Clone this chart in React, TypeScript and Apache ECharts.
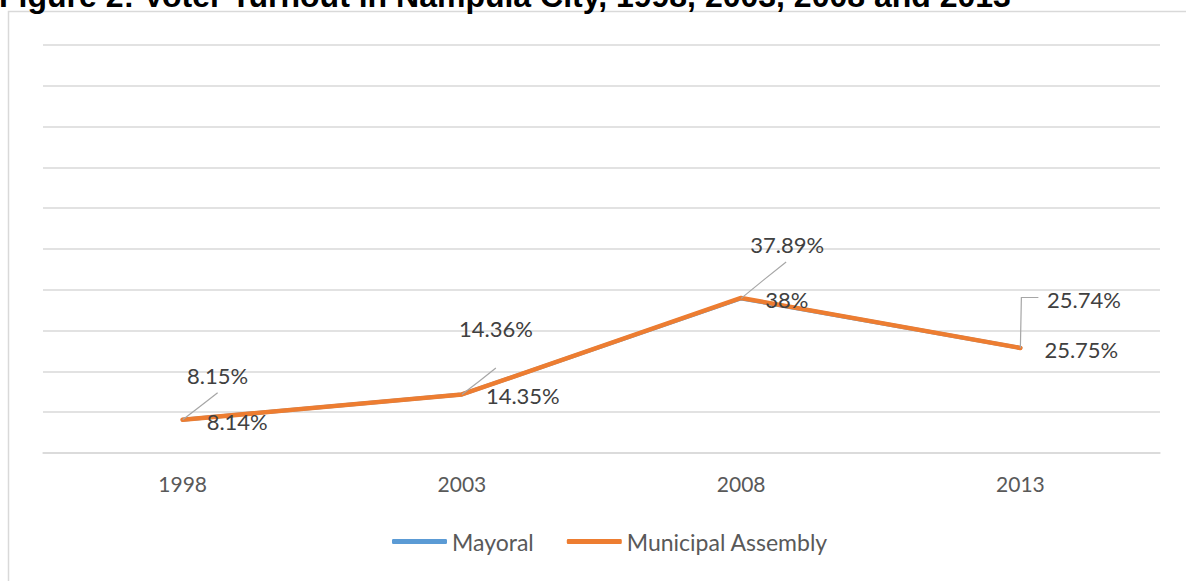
import React, { useEffect, useRef } from "react";
import * as echarts from "echarts";

// ---- data ----
const years = ["1998", "2003", "2008", "2013"];
const mayoral = [8.15, 14.36, 37.89, 25.74];
const municipal = [8.14, 14.35, 38, 25.75];
const mayoralLabels = ["8.15%", "14.36%", "37.89%", "25.74%"];
const municipalLabels = ["8.14%", "14.35%", "38%", "25.75%"];
const seriesNames = ["Mayoral", "Municipal Assembly"];
const titleText = "Figure 2: Voter Turnout in Nampula City, 1998, 2003, 2008 and 2013";

// ---- callout placement for the Mayoral labels (pixel offsets from each point) ----
const mayoralCallouts = [
  { dx: 35, dy: -44, line: [[0, 0], [17, -13], [35, -27]] },
  { dx: 34, dy: -66, line: [[0, 0], [17, -13], [34, -26.5]] },
  { dx: 46, dy: -54, line: [[0, 0], [22, -18], [45, -36.5]] },
  { dx: 63.5, dy: -48.5, line: [[0, 0], [1, -50.5], [18, -50.5]] },
];

const FONT = "Lato, 'Open Sans', sans-serif";
const LABEL_SIZE = 22;

export default function App() {
  const ref = useRef<HTMLDivElement>(null);

  useEffect(() => {
    if (!ref.current) return;
    const chart = echarts.init(ref.current, undefined, { renderer: "svg" });
    const option: any = {
      animation: false,
      backgroundColor: "#ffffff",
      graphic: [
        {
          type: "rect",
          shape: { x: 8.5, y: 11.5, width: 1200, height: 600 },
          style: { fill: "none", stroke: "#d9d9d9", lineWidth: 1.5 },
          z: -10,
        },
        {
          type: "text",
          x: -1,
          y: -3.6,
          style: {
            text: titleText,
            font: "bold 32px 'Liberation Sans', Arial, sans-serif",
            fill: "#000000",
            align: "left",
            verticalAlign: "middle",
          },
        },
      ],
      grid: { left: 43, right: 26, top: 45, bottom: 128 },
      legend: {
        data: [
          { name: seriesNames[0], icon: "roundRect" },
          { name: seriesNames[1], icon: "roundRect" },
        ],
        left: 392,
        top: 530,
        padding: 0,
        itemWidth: 55,
        itemHeight: 5,
        itemGap: 33,
        textStyle: { fontFamily: FONT, fontSize: 23, color: "#595959" },
      },
      xAxis: {
        type: "category",
        data: years,
        boundaryGap: true,
        axisTick: { show: false },
        axisLine: { lineStyle: { color: "#d9d9d9", width: 1.5 } },
        axisLabel: { color: "#595959", fontFamily: FONT, fontSize: 21, margin: 20 },
      },
      yAxis: {
        type: "value",
        min: 0,
        max: 100,
        interval: 10,
        axisLabel: { show: false },
        axisLine: { show: false },
        axisTick: { show: false },
        splitLine: { lineStyle: { color: "#d9d9d9", width: 1.5 } },
      },
      series: [
        {
          name: seriesNames[0],
          type: "line",
          data: mayoral,
          symbol: "none",
          color: "#5b9bd5",
          lineStyle: { color: "#5b9bd5", width: 4, cap: "round", join: "round" },
          itemStyle: { color: "#5b9bd5" },
          z: 2,
        },
        {
          name: seriesNames[1],
          type: "line",
          data: municipal,
          symbol: "circle",
          symbolSize: 2,
          showSymbol: true,
          color: "#ed7d31",
          lineStyle: { color: "#ed7d31", width: 4.5, cap: "round", join: "round" },
          itemStyle: { color: "#ed7d31" },
          label: {
            show: true,
            position: "right",
            distance: 23,
            offset: [0, 1.5],
            color: "#404040",
            fontFamily: FONT,
            fontSize: LABEL_SIZE,
            formatter: (p: any) => municipalLabels[p.dataIndex],
          },
          z: 3,
        },
        {
          name: "mayoral-callouts",
          type: "custom",
          data: mayoral.map((v, i) => [i, v]),
          encode: { x: 0, y: 1 },
          silent: true,
          z: 4,
          renderItem: (params: any, api: any) => {
            const i = params.dataIndex;
            const pt = api.coord([api.value(0), api.value(1)]);
            const c = mayoralCallouts[i];
            return {
              type: "group",
              children: [
                {
                  type: "polyline",
                  shape: { points: c.line.map(([dx, dy]) => [pt[0] + dx, pt[1] + dy]) },
                  style: { stroke: "#a6a6a6", lineWidth: 1.2, fill: null },
                },
                {
                  type: "text",
                  x: pt[0] + c.dx,
                  y: pt[1] + c.dy,
                  style: {
                    text: mayoralLabels[i],
                    fill: "#404040",
                    fontFamily: FONT,
                    fontSize: LABEL_SIZE,
                    align: "center",
                    verticalAlign: "middle",
                  },
                },
              ],
            };
          },
        },
      ],
    };
    chart.setOption(option);
    return () => chart.dispose();
  }, []);

  return (
    <div
      ref={ref}
      style={{ position: "absolute", left: 0, top: 0, width: 1186, height: 581, background: "#fff" }}
    />
  );
}
